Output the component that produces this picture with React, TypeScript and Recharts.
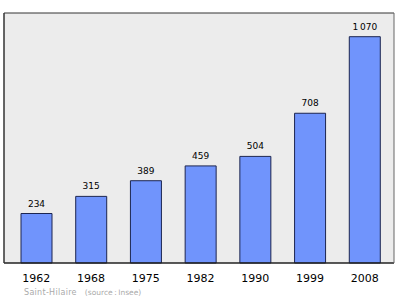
import React from 'react';
import { BarChart, Bar, XAxis, YAxis, CartesianGrid, LabelList } from 'recharts';

const years = ['1962', '1968', '1975', '1982', '1990', '1999', '2008'];
const population = [234, 315, 389, 459, 504, 708, 1070];
const footerPlace = 'Saint-Hilaire';
const footerSource = '(source\u2009:\u2009Insee)';

const data = years.map((y, i) => ({ year: y, pop: population[i] }));

const fmt = (v: any) => {
  const n = Number(v);
  if (n >= 1000) {
    const s = String(n);
    return s.slice(0, s.length - 3) + '\u2009' + s.slice(-3);
  }
  return String(n);
};

export default function App() {
  return (
    <div style={{ position: 'absolute', left: 0, top: 0, width: 400, height: 299, background: '#fff' }}>
      <BarChart
        width={400}
        height={299}
        data={data}
        margin={{ top: 12, right: 5, bottom: 0, left: 3 }}
        barSize={31}
      >
        <CartesianGrid fill="#ececec" horizontal={false} vertical={false} />
        <XAxis
          dataKey="year"
          xAxisId="b"
          height={36}
          padding={{ left: 5, right: 2 }}
          axisLine={{ stroke: '#222', strokeWidth: 1.5 }}
          tickLine={false}
          tickSize={8}
          tickMargin={3}
          tick={{ fontSize: 11, fill: '#000', fontFamily: 'DejaVu Sans' }}
          interval={0}
        />
        <XAxis
          dataKey="year"
          xAxisId="t"
          orientation="top"
          height={1}
          axisLine={{ stroke: '#333' }}
          tick={false}
          tickLine={false}
        />
        <YAxis yAxisId="l" width={1} domain={[0, 1182]} axisLine={{ stroke: '#333', strokeWidth: 1.5 }} tick={false} tickLine={false} />
        <YAxis yAxisId="r" orientation="right" width={1} domain={[0, 1182]} axisLine={{ stroke: '#666' }} tick={false} tickLine={false} />
        <Bar
          dataKey="pop"
          xAxisId="b"
          yAxisId="l"
          fill="#7094fc"
          stroke="#1c2550"
          strokeWidth={1}
          isAnimationActive={false}
        >
          <LabelList
            dataKey="pop"
            position="top"
            offset={7}
            formatter={fmt}
            style={{ fontSize: 9, fill: '#000', fontFamily: 'DejaVu Sans' }}
          />
        </Bar>
      </BarChart>
      <div
        style={{
          position: 'absolute',
          left: 24,
          top: 288,
          fontSize: 8,
          color: '#aaa',
          fontFamily: 'DejaVu Sans',
          whiteSpace: 'nowrap',
          lineHeight: '10px',
        }}
      >
        <span style={{ letterSpacing: 0.3 }}>{footerPlace}</span>
        <span style={{ marginLeft: 8, fontSize: 7.5 }}>{footerSource}</span>
      </div>
    </div>
  );
}
